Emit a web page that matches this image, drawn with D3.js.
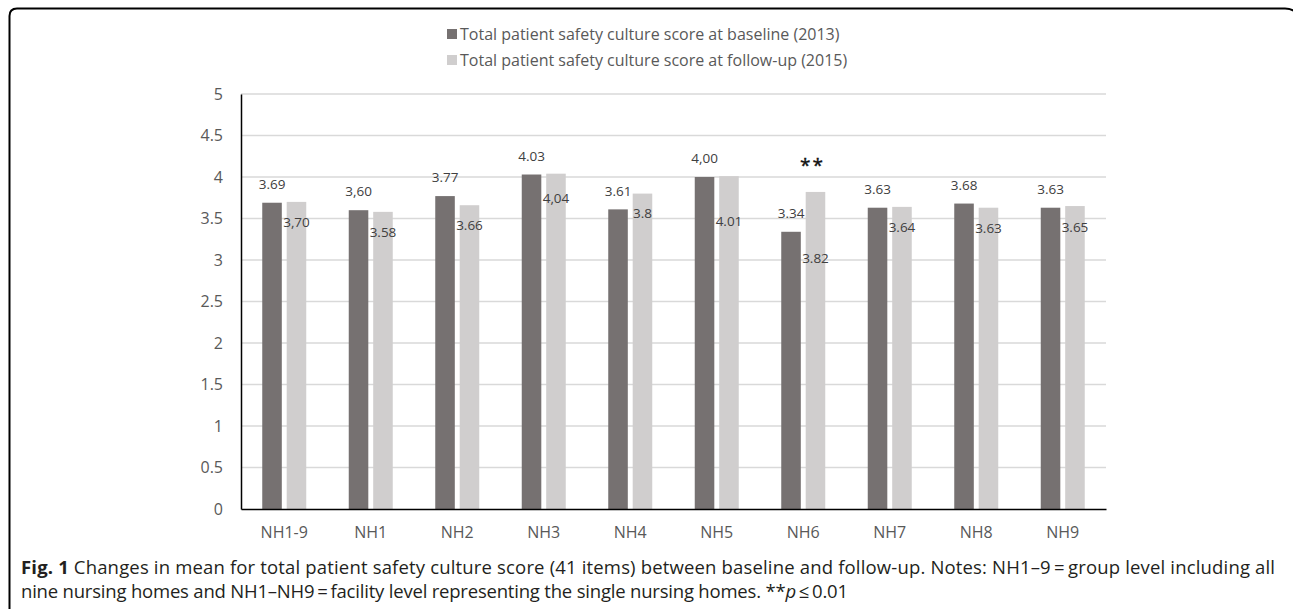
<!DOCTYPE html>
<html>
<head>
<meta charset="utf-8">
<script src="https://cdn.jsdelivr.net/npm/d3@7"></script>
<style>
  body { margin: 0; background: #fff; }
  svg { display: block; font-family: "Open Sans", sans-serif; }
</style>
</head>
<body>
<svg id="chart" width="1293" height="609"></svg>
<script>
var categories = ["NH1-9", "NH1", "NH2", "NH3", "NH4", "NH5", "NH6", "NH7", "NH8", "NH9"];
var baseline = [3.69, 3.60, 3.77, 4.03, 3.61, 4.00, 3.34, 3.63, 3.68, 3.63];
var followUp = [3.70, 3.58, 3.66, 4.04, 3.80, 4.01, 3.82, 3.64, 3.63, 3.65];
var baselineLabels = ["3.69", "3,60", "3.77", "4.03", "3.61", "4,00", "3.34", "3.63", "3.68", "3.63"];
var followUpLabels = ["3,70", "3.58", "3.66", "4,04", "3.8", "4.01", "3.82", "3.64", "3.63", "3.65"];
var seriesNames = ["Total patient safety culture score at baseline (2013)",
                   "Total patient safety culture score at follow-up (2015)"];
var yTicks = [0, 0.5, 1, 1.5, 2, 2.5, 3, 3.5, 4, 4.5, 5];
var significant = ["NH6"];

// follow-up labels were hand placed in the original, nudge them down a bit more
var followNudge = [20, 20, 20, 25, 20, 45, 66, 20, 21, 21];

var colors = ["#767171", "#d0cece"];

var margin = {top: 94, left: 241},
    width = 1106 - 241,
    height = 509 - 94;

var svg = d3.select("#chart");

// frame round the figure
svg.append("path")
    .attr("d", "M9.5,615 L9.5,16 Q9.5,8.5 17,8.5 L1285,8.5 Q1293,8.5 1297,14")
    .attr("fill", "none")
    .attr("stroke", "#000")
    .attr("stroke-width", 2);

var g = svg.append("g")
    .attr("transform", "translate(" + margin.left + "," + margin.top + ")");

var x0 = d3.scaleBand()
    .domain(categories)
    .range([0, width])
    .padding(0);

var x1 = d3.scaleBand()
    .domain([0, 1])
    .range([-22, 22])
    .paddingInner(0.2);

var y = d3.scaleLinear()
    .domain([0, 5])
    .range([height, 0]);

// grid
g.append("g")
    .selectAll("line")
    .data(yTicks.filter(d => d > 0))
    .enter().append("line")
    .attr("x1", 0)
    .attr("x2", width)
    .attr("y1", d => y(d))
    .attr("y2", d => y(d))
    .attr("stroke", "#d9d9d9")
    .attr("stroke-width", 1.5);

// y axis
var yAxis = g.append("g")
    .call(d3.axisLeft(y).tickValues(yTicks).tickSize(0).tickPadding(18).tickFormat(d => d));
yAxis.select(".domain").attr("stroke", "#000").attr("stroke-width", 1.5);
yAxis.selectAll("text")
    .attr("fill", "#595959")
    .style("font-size", "16px")
    .style("font-family", "Open Sans");

// bars
var groups = g.selectAll(".grp")
    .data(categories)
    .enter().append("g")
    .attr("class", "grp")
    .attr("transform", d => "translate(" + (x0(d) + x0.bandwidth() / 2) + ",0)");

groups.append("rect")
    .attr("x", x1(0))
    .attr("width", x1.bandwidth())
    .attr("y", (d, i) => y(baseline[i]))
    .attr("height", (d, i) => height - y(baseline[i]))
    .attr("fill", colors[0]);

groups.append("rect")
    .attr("x", x1(1))
    .attr("width", x1.bandwidth())
    .attr("y", (d, i) => y(followUp[i]))
    .attr("height", (d, i) => height - y(followUp[i]))
    .attr("fill", colors[1]);

groups.append("text")
    .attr("x", x1(0) + x1.bandwidth() / 2)
    .attr("y", (d, i) => y(baseline[i]) - 18.5)
    .attr("dy", "0.35em")
    .attr("text-anchor", "middle")
    .attr("fill", "#404040")
    .style("font-size", "13.5px")
    .text((d, i) => baselineLabels[i]);

groups.append("text")
    .attr("x", x1(1) + x1.bandwidth() / 2)
    .attr("y", (d, i) => y(followUp[i]) + followNudge[i])
    .attr("dy", "0.35em")
    .attr("text-anchor", "middle")
    .attr("fill", "#404040")
    .style("font-size", "13.5px")
    .text((d, i) => followUpLabels[i]);

groups.filter(d => significant.indexOf(d) >= 0)
    .append("text")
    .attr("x", x1(1) + x1.bandwidth() / 2 - 3)
    .attr("y", d => y(followUp[categories.indexOf(d)]) - 20)
    .attr("text-anchor", "middle")
    .attr("fill", "#111")
    .attr("letter-spacing", "2px")
    .attr("stroke", "#111")
    .attr("stroke-width", 0.4)
    .style("font-size", "19px")
    .text("**");

// x axis
var xAxis = g.append("g")
    .attr("transform", "translate(0," + height + ")")
    .call(d3.axisBottom(x0).tickSize(0).tickPadding(18));
xAxis.select(".domain").attr("stroke", "#000").attr("stroke-width", 1.5);
xAxis.selectAll("text")
    .attr("fill", "#595959")
    .style("font-size", "16px")
    .style("font-family", "Open Sans");

// legend
var legend = svg.append("g")
    .selectAll("g")
    .data(seriesNames)
    .enter().append("g")
    .attr("transform", (d, i) => "translate(447," + (34 + i * 26) + ")");

legend.append("rect")
    .attr("x", 0)
    .attr("y", -5)
    .attr("width", 10)
    .attr("height", 10)
    .attr("fill", (d, i) => colors[i]);

legend.append("text")
    .attr("x", 13)
    .attr("dy", "0.35em")
    .attr("fill", "#595959")
    .style("font-size", "16px")
    .text(d => d);

// caption
var cap = svg.append("g").attr("fill", "#231f20").style("font-size", "18.5px");
var l1 = cap.append("text").attr("x", 21).attr("y", 574)
    .attr("textLength", 1254).attr("lengthAdjust", "spacing");
l1.append("tspan").attr("font-weight", "bold").text("Fig. 1");
l1.append("tspan").text(" Changes in mean for total patient safety culture score (41 items) between baseline and follow-up. Notes: NH1\u20139\u2009=\u2009group level including all");
var l2 = cap.append("text").attr("x", 21).attr("y", 598)
    .attr("textLength", 827).attr("lengthAdjust", "spacing");
l2.append("tspan").text("nine nursing homes and NH1\u2013NH9\u2009=\u2009facility level representing the single nursing homes. **");
l2.append("tspan").attr("font-style", "italic").text("p");
l2.append("tspan").text("\u2009\u2264\u20090.01");
</script>
</body>
</html>
